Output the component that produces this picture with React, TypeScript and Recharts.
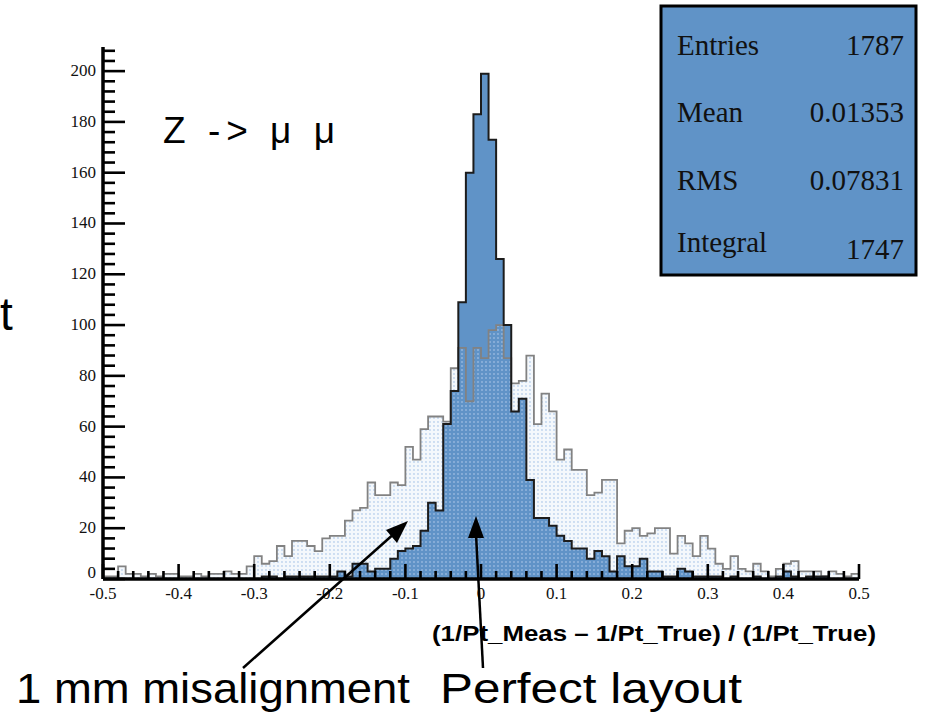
import React from "react";
import { Area, ComposedChart, XAxis, YAxis } from "recharts";

// histogram binning: 100 bins of 0.01 over [-0.5, 0.5]
const binLow = -0.5;
const binWidth = 0.01;

// counts per bin, perfect layout (filled)
const perfectLayout = [
  0, 0, 0, 0, 0, 0, 0, 0, 0, 0,
  0, 0, 0, 0, 0, 0, 0, 0, 0, 0,
  0, 1, 1, 0, 1, 1, 1, 1, 1, 1,
  1, 3, 1, 6, 6, 3, 4, 4, 8, 11,
  12, 13, 19, 30, 27, 61, 74, 109, 160, 183,
  199, 173, 126, 100, 66, 71, 39, 24, 24, 21,
  17, 15, 12, 12, 8, 11, 9, 3, 9, 5,
  5, 8, 3, 3, 1, 1, 4, 3, 1, 1,
  1, 1, 0, 1, 0, 0, 1, 0, 0, 1,
  3, 1, 0, 1, 1, 1, 0, 0, 0, 0,
];

// counts per bin, 1 mm misalignment (dotted)
const misaligned1mm = [
  1, 1, 5, 2, 2, 1, 2, 1, 2, 2,
  1, 1, 2, 1, 2, 2, 3, 2, 2, 5,
  9, 6, 7, 13, 9, 15, 15, 13, 11, 16,
  17, 17, 23, 27, 28, 38, 33, 33, 38, 37,
  52, 47, 59, 64, 64, 62, 83, 91, 70, 91,
  87, 98, 100, 87, 77, 78, 88, 61, 73, 66,
  47, 51, 43, 43, 33, 34, 39, 39, 14, 19,
  20, 17, 18, 20, 20, 10, 17, 14, 9, 17,
  12, 6, 4, 9, 4, 3, 6, 3, 1, 4,
  6, 7, 3, 3, 3, 1, 3, 2, 1, 2,
];

const xMajorTicks = [-0.5, -0.4, -0.3, -0.2, -0.1, 0, 0.1, 0.2, 0.3, 0.4, 0.5];
const xTickLabels = ["-0.5", "-0.4", "-0.3", "-0.2", "-0.1", "0", "0.1", "0.2", "0.3", "0.4", "0.5"];
const yMajorTicks = [0, 20, 40, 60, 80, 100, 120, 140, 160, 180, 200];

const statNames = ["Entries", "Mean", "RMS", "Integral"];
const statValues = ["1787", "0.01353", "0.07831", "1747"];

const histData = perfectLayout.map((v, i) => ({
  x: +(binLow + i * binWidth).toFixed(2),
  perfect: v,
  misaligned: misaligned1mm[i],
}));
// closing edge so the last step reaches the axis end
histData.push({
  x: 0.5,
  perfect: perfectLayout[perfectLayout.length - 1],
  misaligned: misaligned1mm[misaligned1mm.length - 1],
});

// ROOT-style divisions: minor ticks every 0.02 / every 4 counts
const xTicks = Array.from({ length: 51 }, (_, i) => +(-0.5 + i * 0.02).toFixed(2));
const yTicks = Array.from({ length: 53 }, (_, i) => i * 4);

const SERIF = "'Liberation Serif', 'DejaVu Serif', serif";
const SANS = "'Liberation Sans', Arial, sans-serif";
const tickFont = { fontFamily: SERIF, fontSize: 17, fill: "#111" };

function XTick(props: any) {
  const { x, y, payload } = props;
  const idx = xMajorTicks.findIndex((t) => Math.abs(t - payload.value) < 1e-6);
  const major = idx >= 0;
  return (
    <g>
      <line x1={x} x2={x} y1={y} y2={y - (major ? 15 : 8)} stroke="#000" strokeWidth={2.6} />
      {major && (
        <text x={x} y={y + 20} textAnchor="middle" style={tickFont}>
          {xTickLabels[idx]}
        </text>
      )}
    </g>
  );
}

function YTick(props: any) {
  const { x, y, payload } = props;
  const major = yMajorTicks.includes(payload.value);
  return (
    <g>
      <line x1={x} x2={x + (major ? 22 : 12)} y1={y} y2={y} stroke="#000" strokeWidth={2.6} />
      {major && (
        <text x={x - 7} y={payload.value === 0 ? y - 1 : y + 5} textAnchor="end" style={tickFont}>
          {payload.value}
        </text>
      )}
    </g>
  );
}

function Annotations() {
  const nameY = [55, 122, 190, 252];
  const valueY = [55, 122, 190, 259];
  return (
    <svg
      width={930}
      height={715}
      style={{ position: "absolute", left: 0, top: 0, pointerEvents: "none" }}
    >
      {/* statistics box */}
      <rect x={661} y={6} width={255} height={269} fill="#6093c7" stroke="#000" strokeWidth={3} />
      {statNames.map((n, i) => (
        <text key={n} x={677} y={nameY[i]} fontFamily={SERIF} fontSize={29} fill="#111">
          {n}
        </text>
      ))}
      {statValues.map((v, i) => (
        <text key={v} x={904} y={valueY[i]} textAnchor="end" fontFamily={SERIF} fontSize={29} fill="#111">
          {v}
        </text>
      ))}

      <text x={163} y={143} fontFamily={SANS} fontSize={37} fill="#000" textLength={172} lengthAdjust="spacing">
        Z -&gt; μ μ
      </text>
      <text x={0} y={330} fontFamily={SANS} fontSize={46} fill="#000">
        t
      </text>

      <text
        x={432}
        y={641}
        fontFamily={SANS}
        fontWeight="bold"
        fontSize={22}
        fill="#000"
        textLength={444}
        lengthAdjust="spacingAndGlyphs"
      >
        (1/Pt_Meas – 1/Pt_True) / (1/Pt_True)
      </text>

      {/* pointer arrows */}
      <line x1={243} y1={668} x2={396} y2={532} stroke="#000" strokeWidth={2.5} />
      <polygon points="408,521 386,530 397,543" fill="#000" />
      <line x1={483} y1={668} x2={476} y2={534} stroke="#000" strokeWidth={2.5} />
      <polygon points="476,516 468,538 484,538" fill="#000" />

      <text x={16} y={703} fontFamily={SANS} fontSize={42} fill="#000" textLength={394} lengthAdjust="spacingAndGlyphs">
        1 mm misalignment
      </text>
      <text x={440} y={703} fontFamily={SANS} fontSize={42} fill="#000" textLength={302} lengthAdjust="spacingAndGlyphs">
        Perfect layout
      </text>
    </svg>
  );
}

export default function App() {
  return (
    <div style={{ position: "absolute", left: 0, top: 0, width: 930, height: 715, background: "#fff" }}>
      <ComposedChart
        width={930}
        height={715}
        data={histData}
        margin={{ top: 47, right: 71, bottom: 106, left: 43 }}
      >
        <defs>
          <pattern id="dotFill" width={4} height={4} patternUnits="userSpaceOnUse">
            <circle cx={2} cy={2} r={0.9} fill="#a9c4e6" fillOpacity={0.75} />
          </pattern>
        </defs>
        <Area
          type="stepAfter"
          dataKey="misaligned"
          stroke="none"
          fill="#f4f8fc"
          fillOpacity={1}
          dot={false}
          activeDot={false}
          isAnimationActive={false}
        />
        <Area
          type="stepAfter"
          dataKey="perfect"
          stroke="none"
          fill="#6093c7"
          fillOpacity={1}
          dot={false}
          activeDot={false}
          isAnimationActive={false}
        />
        <Area
          type="stepAfter"
          dataKey="misaligned"
          stroke="#828282"
          strokeWidth={1.8}
          fill="url(#dotFill)"
          fillOpacity={1}
          dot={false}
          activeDot={false}
          isAnimationActive={false}
        />
        <Area
          type="stepAfter"
          dataKey="perfect"
          stroke="#1c1c1c"
          strokeWidth={2}
          fill="none"
          dot={false}
          activeDot={false}
          isAnimationActive={false}
        />
        <XAxis
          dataKey="x"
          type="number"
          domain={[-0.5, 0.5]}
          ticks={xTicks}
          interval={0}
          tickSize={0}
          tickMargin={0}
          tick={<XTick />}
          tickLine={false}
          axisLine={{ stroke: "#000", strokeWidth: 3.5 }}
          height={30}
          allowDataOverflow
        />
        <XAxis
          xAxisId="frameTop"
          orientation="top"
          type="number"
          domain={[-0.5, 0.5]}
          tick={false}
          tickLine={false}
          axisLine={{ stroke: "#6a6a6a", strokeWidth: 1.5 }}
          height={0}
        />
        <YAxis
          type="number"
          domain={[0, 209.5]}
          ticks={yTicks}
          interval={0}
          tickSize={0}
          tickMargin={0}
          tick={<YTick />}
          tickLine={false}
          axisLine={{ stroke: "#000", strokeWidth: 3.5 }}
          width={60}
          allowDataOverflow
        />
        <YAxis
          yAxisId="frameRight"
          orientation="right"
          type="number"
          domain={[0, 209.5]}
          tick={false}
          tickLine={false}
          axisLine={{ stroke: "#6a6a6a", strokeWidth: 1.5 }}
          width={0}
        />
      </ComposedChart>
      <Annotations />
    </div>
  );
}
